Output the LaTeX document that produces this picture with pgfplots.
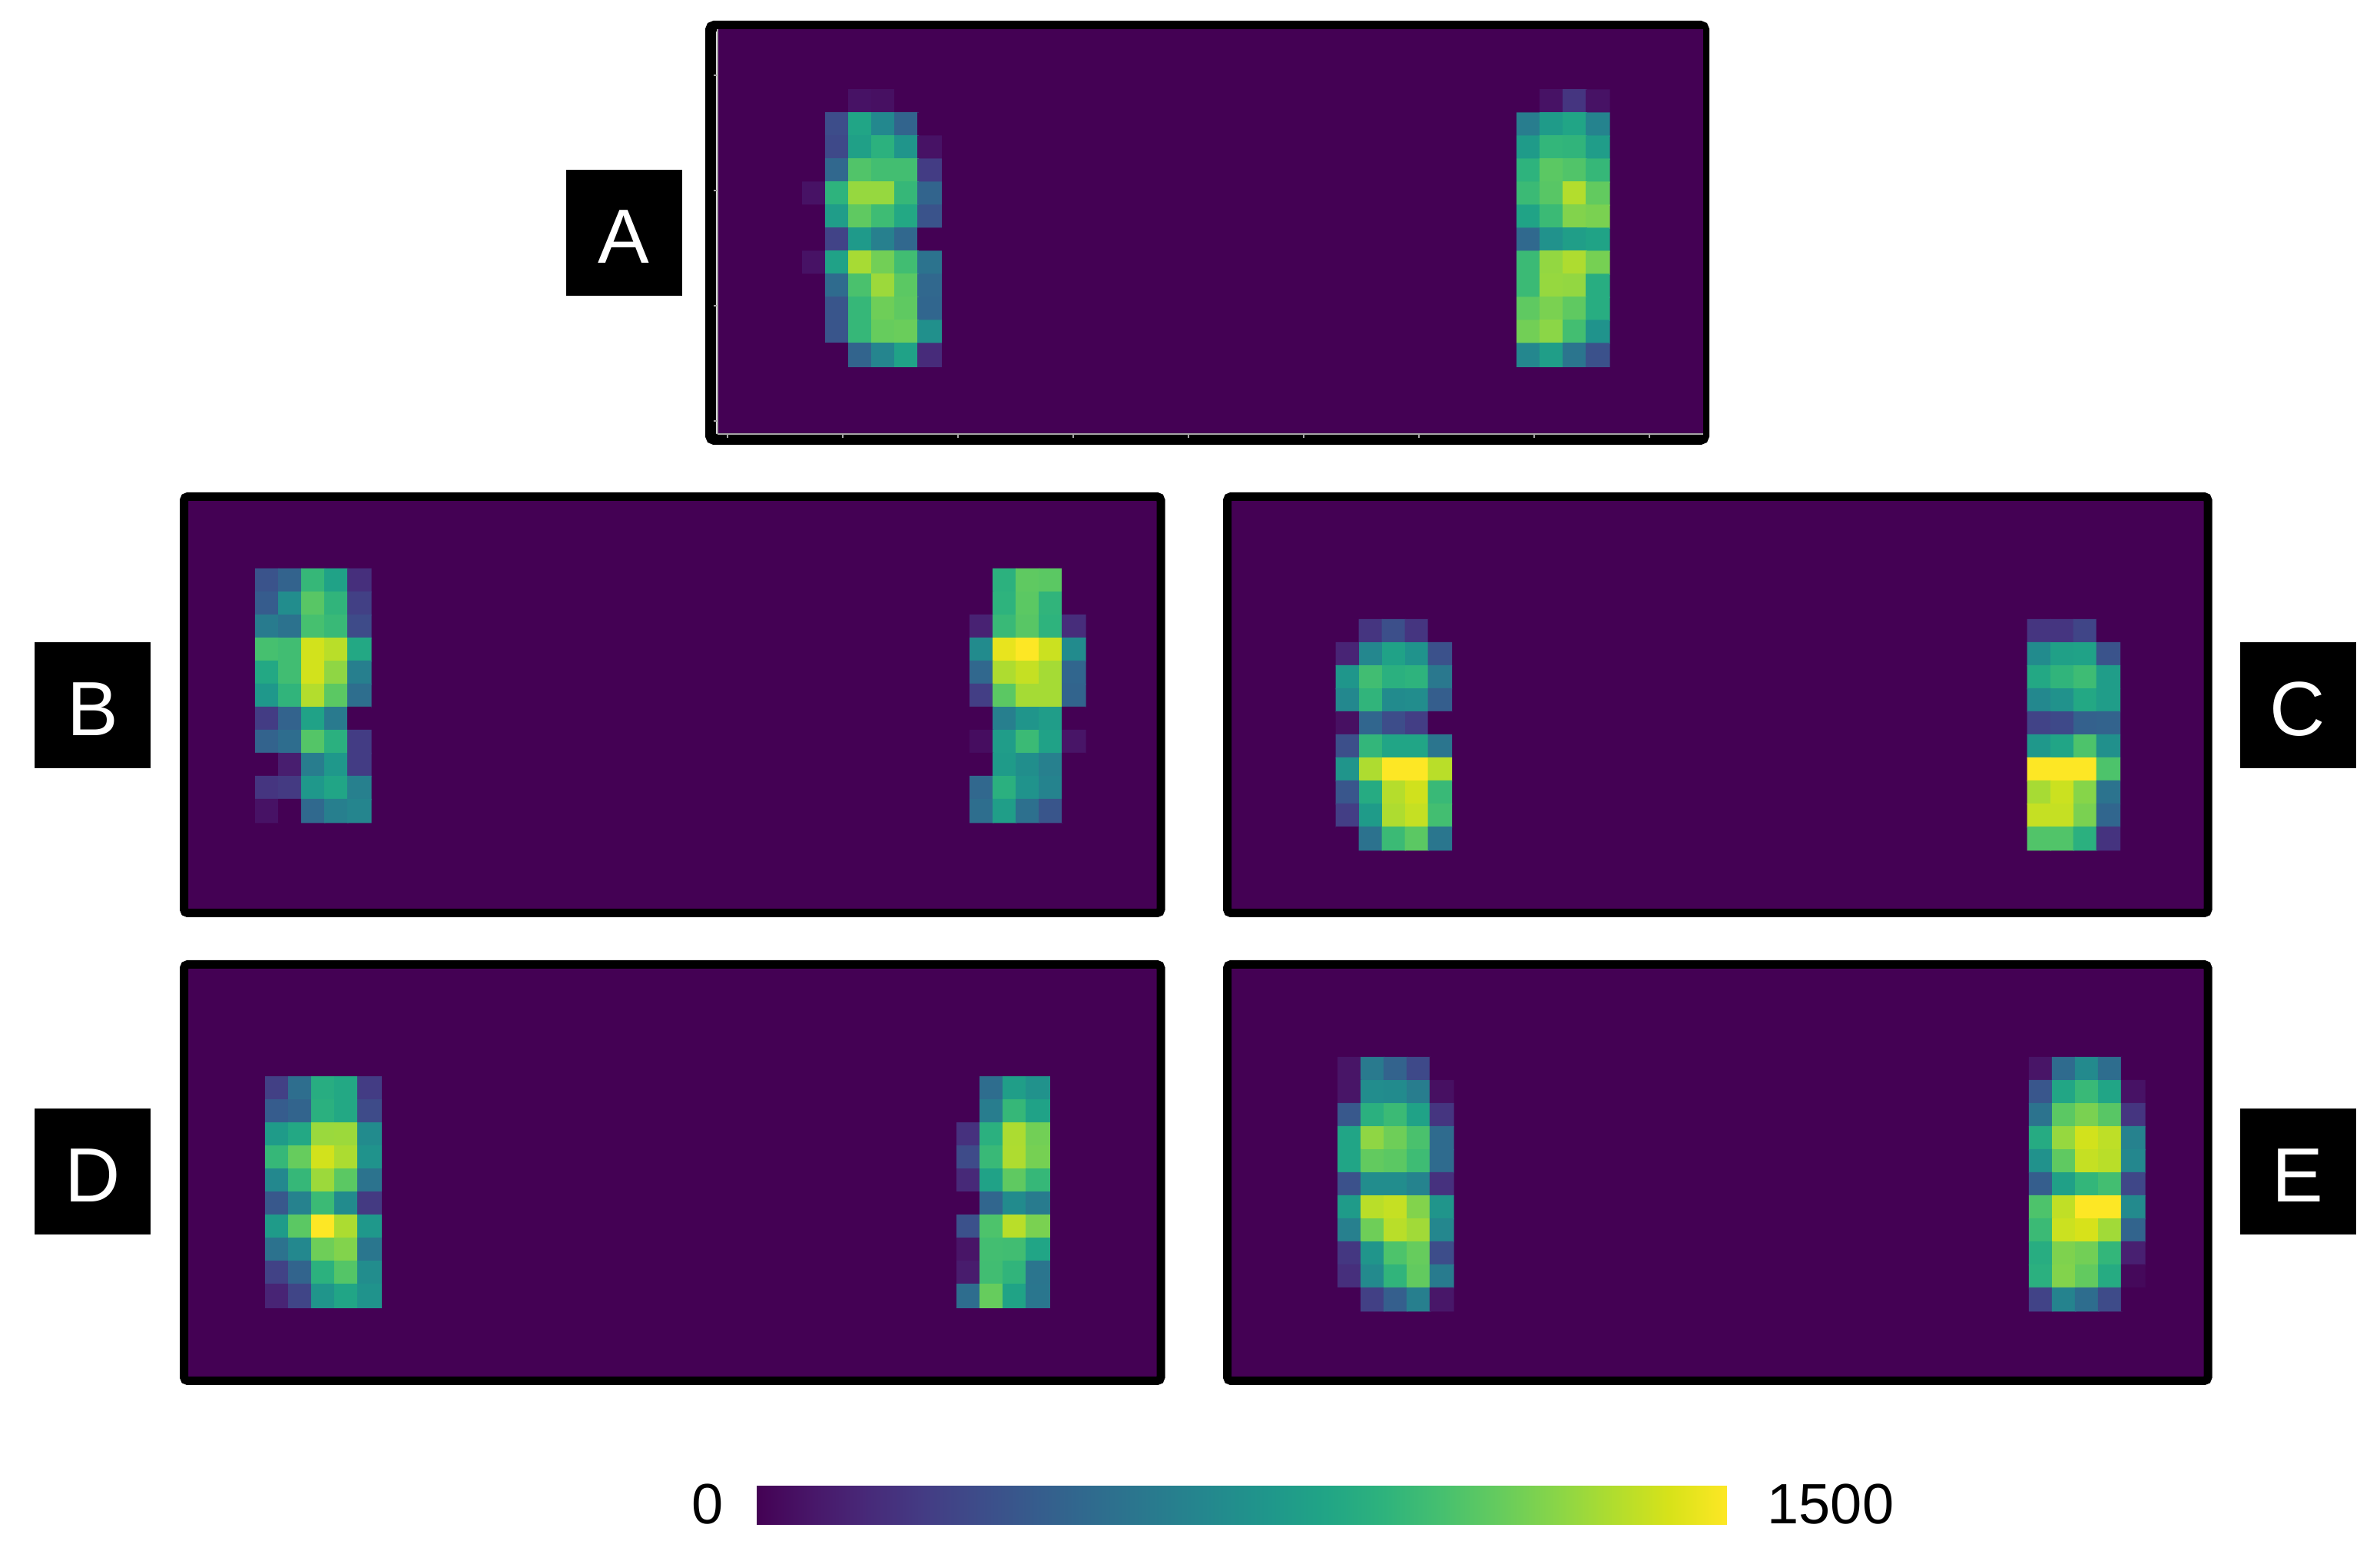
\documentclass[border=0pt]{standalone}
\usepackage{fontspec}
\setmainfont{Liberation Sans}
\usepackage{pgfplots}
\pgfplotsset{compat=1.18}

\newcommand{\pxu}{0.25pt}
\definecolor{bgpurple}{RGB}{68,1,84}

% one block of cells: columns, first column, first row, values row by row
\newcommand{\cluster}[4]{%
  \addplot[matrix plot*, mesh/cols=#1, point meta=explicit]
    table[header=false, row sep=\\,
      x expr={#2+round(mod(\coordindex,#1))},
      y expr={#3+floor((\coordindex+0.5)/#1)},
      meta index=0] {#4};
}

\pgfplotsset{
  panel/.style={
    scale only axis,
    anchor=north west,
    colormap/viridis,
    point meta min=0,
    point meta max=1500,
    y dir=reverse,
    axis background/.style={fill=bgpurple},
    axis line style={draw=none},
    xtick=\empty,
    ytick=\empty,
  },
  wide/.style={width=1263*\pxu, height=533*\pxu, xmax=#1+42.1},
  wider/.style={width=1268*\pxu, height=533*\pxu, xmax=#1+42.27},
}
\tikzset{
  tag/.style={fill=black, text=white, inner sep=0pt, minimum width=151*\pxu,
    minimum height=164*\pxu, text height=20pt, text depth=0pt,
    font=\fontsize{25}{30}\selectfont},
  frame/.style={black, line width=11*\pxu, rounded corners=1.2pt},
}

\begin{document}
\begin{tikzpicture}
\useasboundingbox (0,0) rectangle (3098*\pxu,2005*\pxu);

% panel A
\draw[frame, line width=14*\pxu] (925*\pxu,{(2005-34)*\pxu}) rectangle (2218*\pxu,{(2005-572)*\pxu});
\begin{axis}[panel, at={(934*\pxu,{(2005-38)*\pxu})},
  width=1283*\pxu, height=527*\pxu,
  xmin=-0.2, xmax=42.57, ymin=-0.14, ymax=17.43,
  axis line style={draw=gray!70, line width=0.5pt},
  axis x line*=bottom, axis y line*=left,
  xtick={0.23,5.23,10.23,15.23,20.23,25.23,30.23,35.23,40.23},
  ytick={1.86,6.86,11.86,16.86},
  xticklabels={}, yticklabels={},
  tick style={draw=gray!70, line width=0.4pt},
  tickwidth=1.2pt, tick align=outside,
]
\cluster{6}{4}{3}{
0\\0\\70\\60\\0\\0\\
0\\350\\880\\700\\480\\0\\
0\\330\\850\\960\\780\\70\\
0\\500\\1090\\1050\\1050\\260\\
70\\970\\1265\\1265\\1000\\480\\
0\\830\\1130\\1030\\900\\380\\
0\\300\\810\\650\\500\\0\\
70\\860\\1305\\1180\\1040\\570\\
0\\520\\1070\\1280\\1120\\500\\
0\\390\\1000\\1170\\1130\\490\\
0\\390\\1000\\1150\\1160\\750\\
0\\0\\480\\680\\860\\180\\
}
\cluster{4}{35}{3}{
0\\70\\230\\70\\
630\\820\\880\\670\\
820\\990\\980\\830\\
970\\1120\\1090\\1000\\
1020\\1110\\1330\\1140\\
870\\1020\\1220\\1200\\
510\\760\\840\\870\\
1020\\1260\\1320\\1190\\
1020\\1265\\1260\\930\\
1130\\1200\\1130\\930\\
1180\\1240\\1050\\770\\
690\\840\\580\\370\\
}
\end{axis}

% panel B
\begin{axis}[panel, wide=-0.46, at={(244*\pxu,{(2005-651)*\pxu})},
  xmin=-0.46, ymin=-0.49, ymax=17.28]
\cluster{5}{3}{3}{
380\\470\\1000\\860\\200\\
430\\730\\1110\\980\\280\\
620\\560\\1060\\1010\\340\\
1060\\1040\\1400\\1345\\900\\
900\\1040\\1400\\1250\\640\\
800\\980\\1330\\1120\\540\\
260\\470\\860\\610\\0\\
470\\530\\1100\\950\\260\\
0\\120\\630\\800\\260\\
230\\250\\800\\880\\650\\
70\\0\\510\\640\\680\\
}
\cluster{5}{34}{3}{
0\\960\\1130\\1120\\0\\
0\\970\\1120\\980\\0\\
140\\1010\\1110\\970\\190\\
720\\1450\\1500\\1385\\720\\
500\\1320\\1370\\1300\\490\\
270\\1120\\1300\\1300\\480\\
0\\640\\780\\830\\0\\
50\\830\\1020\\860\\80\\
0\\820\\740\\650\\0\\
500\\950\\770\\670\\0\\
540\\840\\550\\390\\0\\
}
\end{axis}

% panel C
\begin{axis}[panel, wider=-0.08, at={(1602*\pxu,{(2005-651)*\pxu})},
  xmin=-0.08, ymin=-0.69, ymax=17.08]
\cluster{5}{5}{5}{
0\\230\\360\\230\\0\\
150\\690\\860\\770\\370\\
790\\1040\\950\\970\\600\\
700\\980\\720\\730\\440\\
60\\490\\350\\270\\0\\
360\\990\\880\\880\\580\\
780\\1320\\1500\\1500\\1345\\
400\\920\\1335\\1395\\1010\\
270\\820\\1320\\1370\\1050\\
0\\560\\1020\\1120\\590\\
}
\cluster{4}{35}{5}{
230\\230\\310\\0\\
720\\850\\860\\380\\
900\\980\\1030\\830\\
700\\760\\900\\830\\
300\\330\\460\\470\\
800\\880\\1080\\750\\
1500\\1500\\1500\\1080\\
1305\\1385\\1230\\570\\
1370\\1370\\1200\\490\\
1090\\1090\\950\\220\\
}
\end{axis}

% panel D
\begin{axis}[panel, wide=-0.9, at={(244*\pxu,{(2005-1260)*\pxu})},
  xmin=-0.9, ymin=-0.24, ymax=17.53]
\cluster{5}{3}{5}{
280\\540\\930\\900\\260\\
430\\480\\950\\900\\340\\
820\\900\\1275\\1280\\720\\
1000\\1150\\1400\\1315\\770\\
700\\1000\\1280\\1120\\570\\
410\\660\\1020\\720\\250\\
820\\1120\\1500\\1315\\800\\
560\\700\\1170\\1220\\590\\
290\\480\\960\\1100\\730\\
150\\310\\780\\880\\770\\
}
\cluster{4}{33}{5}{
0\\530\\840\\760\\
0\\630\\1000\\860\\
210\\950\\1315\\1180\\
340\\1010\\1320\\1190\\
170\\860\\1130\\1000\\
0\\490\\720\\620\\
370\\1080\\1345\\1200\\
80\\1050\\1040\\880\\
110\\1040\\980\\580\\
530\\1150\\870\\590\\
}
\end{axis}

% panel E
\begin{axis}[panel, wider=-0.16, at={(1602*\pxu,{(2005-1260)*\pxu})},
  xmin=-0.16, ymin=-0.39, ymax=17.38]
\cluster{5}{5}{4}{
80\\610\\470\\330\\0\\
80\\730\\720\\630\\60\\
410\\950\\1020\\860\\230\\
880\\1250\\1170\\1070\\520\\
880\\1140\\1120\\1030\\520\\
370\\730\\730\\670\\210\\
820\\1345\\1370\\1220\\780\\
650\\1170\\1345\\1290\\690\\
240\\780\\1080\\1150\\350\\
200\\710\\980\\1140\\620\\
0\\280\\450\\640\\90\\
}
\cluster{5}{35}{4}{
80\\520\\710\\530\\0\\
400\\890\\1010\\880\\70\\
570\\1120\\1200\\1110\\230\\
920\\1265\\1400\\1355\\660\\
760\\1130\\1370\\1345\\690\\
440\\850\\990\\1050\\320\\
1080\\1360\\1500\\1500\\710\\
1020\\1385\\1410\\1290\\480\\
930\\1210\\1180\\990\\130\\
950\\1220\\1140\\920\\30\\
300\\670\\530\\340\\0\\
}
\end{axis}

% frames of the lower panels
\draw[frame] (239.5*\pxu,{(2005-646.5)*\pxu}) rectangle (1511*\pxu,{(2005-1188.5)*\pxu});
\draw[frame] (1597.5*\pxu,{(2005-646.5)*\pxu}) rectangle (2874*\pxu,{(2005-1188.5)*\pxu});
\draw[frame] (239.5*\pxu,{(2005-1255.5)*\pxu}) rectangle (1511*\pxu,{(2005-1797.5)*\pxu});
\draw[frame] (1597.5*\pxu,{(2005-1255.5)*\pxu}) rectangle (2874*\pxu,{(2005-1797.5)*\pxu});

% panel tags
\node[tag] at (812*\pxu,{(2005-303)*\pxu}) {A};
\node[tag] at (120.5*\pxu,{(2005-918)*\pxu}) {B};
\node[tag] at (2991*\pxu,{(2005-918)*\pxu}) {C};
\node[tag] at (120.5*\pxu,{(2005-1525)*\pxu}) {D};
\node[tag] at (2991*\pxu,{(2005-1525)*\pxu}) {E};

% colour scale
\begin{axis}[scale only axis, hide axis, anchor=south west,
  at={(984*\pxu,{(2005-1984)*\pxu})},
  width=1264*\pxu, height=50*\pxu,
  xmin=0, xmax=1, ymin=0, ymax=1,
  colormap/viridis, point meta min=0, point meta max=1500,
  colorbar horizontal,
  colorbar style={
    at={(0,0)}, anchor=south west,
    scale only axis, width=1264*\pxu, height=50*\pxu,
    xtick=\empty, ytick=\empty, axis line style={draw=none},
  },
]
\end{axis}
\node[font=\fontsize{18.5}{23}\selectfont, anchor=center] at (921*\pxu,{(2005-1958)*\pxu}) {0};
\node[font=\fontsize{18.5}{23}\selectfont, anchor=center] at (2383*\pxu,{(2005-1958)*\pxu}) {1500};
\end{tikzpicture}
\end{document}
